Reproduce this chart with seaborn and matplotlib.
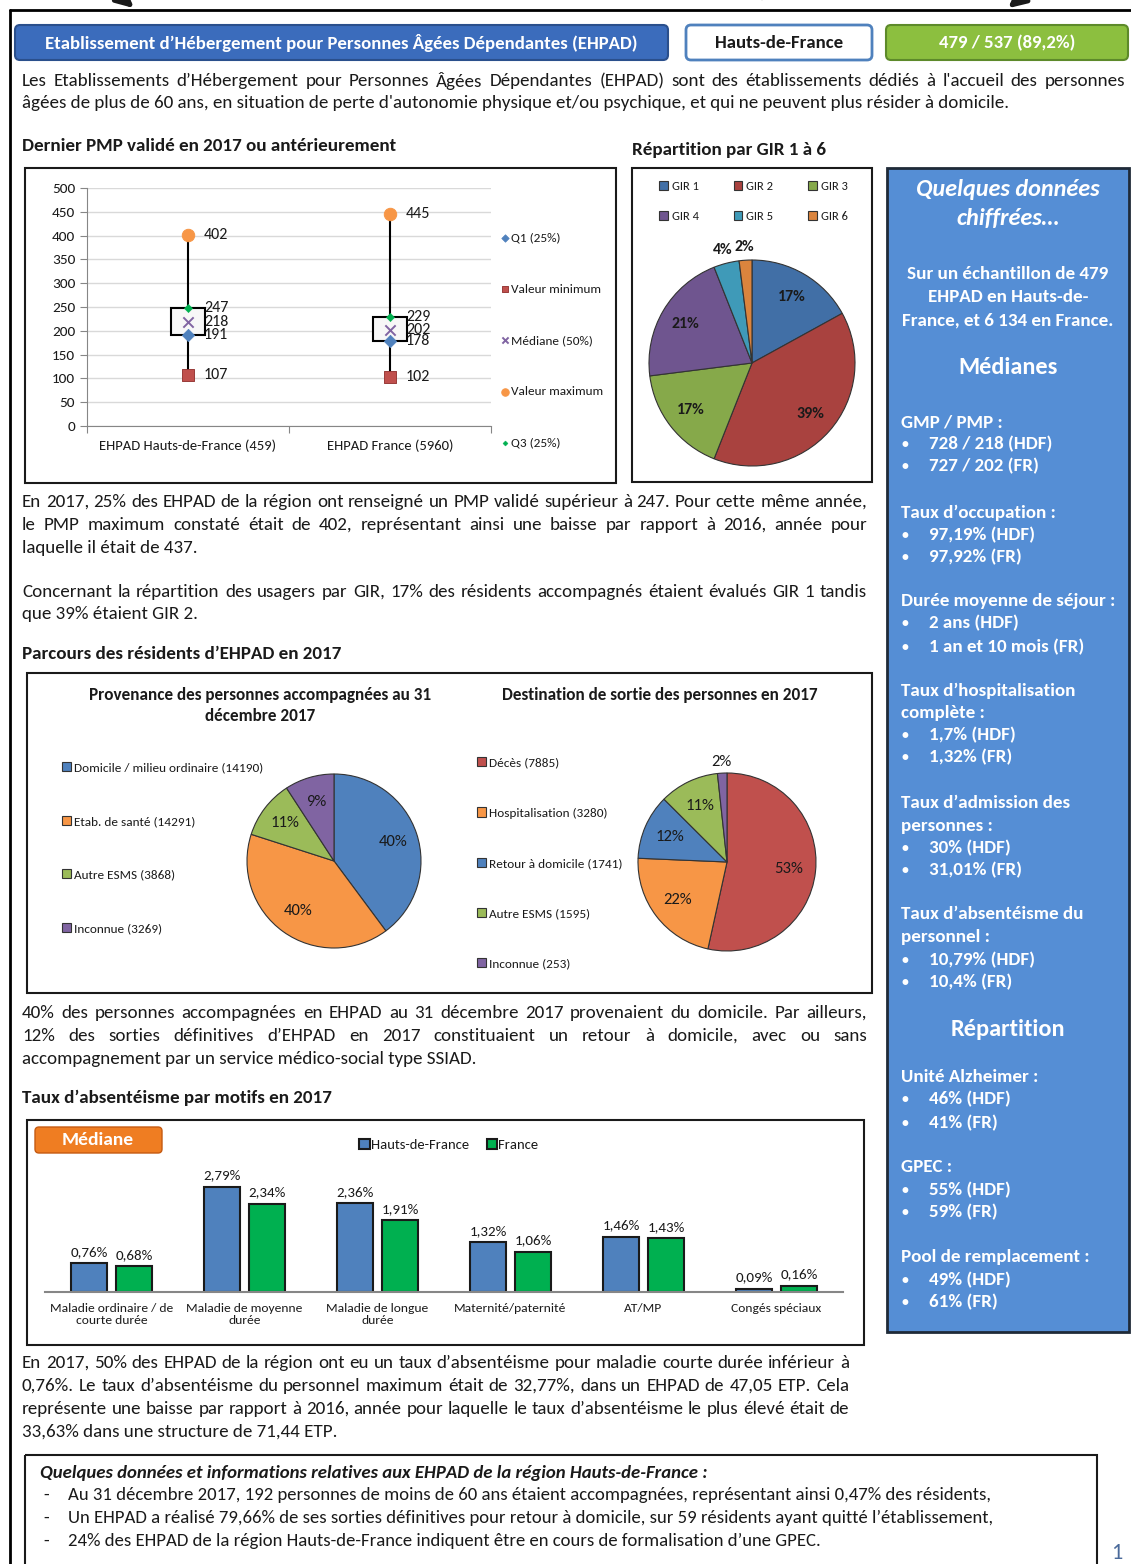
import numpy as np
import pandas as pd
import matplotlib.pyplot as plt
import matplotlib.patches as patches
from matplotlib import font_manager
from matplotlib.transforms import Affine2D
import seaborn as sns

W, H = 1131, 1564

# --- PMP (box plot) ---
pmp_cats = ['EHPAD Hauts-de-France (459)', 'EHPAD France (5960)']
pmp_min = [107, 102]
pmp_q1 = [191, 178]
pmp_med = [218, 202]
pmp_q3 = [247, 229]
pmp_max = [402, 445]

# --- GIR ---
gir_labels = ['GIR 1', 'GIR 2', 'GIR 3', 'GIR 4', 'GIR 5', 'GIR 6']
gir_pct = [17, 39, 17, 21, 4, 2]

# --- parcours ---
prov_labels = ['Domicile / milieu ordinaire (14190)', 'Etab. de santé (14291)',
               'Autre ESMS (3868)', 'Inconnue (3269)']
prov_counts = [14190, 14291, 3868, 3269]
dest_labels = ['Décès (7885)', 'Hospitalisation (3280)', 'Retour à domicile (1741)',
               'Autre ESMS (1595)', 'Inconnue (253)']
dest_counts = [7885, 3280, 1741, 1595, 253]

# --- absentéisme ---
abs_cats = ['Maladie ordinaire / de\ncourte durée', 'Maladie de moyenne\ndurée',
            'Maladie de longue\ndurée', 'Maternité/paternité', 'AT/MP', 'Congés spéciaux']
abs_hdf = [0.76, 2.79, 2.36, 1.32, 1.46, 0.09]
abs_fr = [0.68, 2.34, 1.91, 1.06, 1.43, 0.16]

BLUE, RED, GREEN, PURPLE, TEAL, ORANGE = '#4f81bd', '#c0504d', '#9bbb59', '#8064a2', '#4bacc6', '#f79646'
TXT = '#1a1a1a'
BODY = 13.7

sns.set_style('ticks')
avail = {f.name for f in font_manager.fontManager.ttflist}
FONT = next(f for f in ['Carlito', 'Liberation Sans Narrow', 'Open Sans', 'DejaVu Sans'] if f in avail)
plt.rcParams['font.family'] = FONT

fig = plt.figure(figsize=(W / 100, H / 100), dpi=100)
px = Affine2D().scale(1 / W, -1 / H).translate(0, 1) + fig.transFigure
renderer = fig.canvas.get_renderer()


def txt(x, y, s, size=BODY, **kw):
    kw.setdefault('color', TXT)
    kw.setdefault('va', 'center')
    return fig.text(x, y, s, transform=px, fontsize=size, **kw)


def rect(x0, y0, x1, y1, fc='none', ec='#1a1a1a', lw=1.5, rnd=0, z=0):
    style = f'round,pad=0,rounding_size={rnd}' if rnd else 'square,pad=0'
    p = patches.FancyBboxPatch((x0, y0), x1 - x0, y1 - y0, boxstyle=style, transform=px,
                               fc=fc, ec=ec, lw=lw, zorder=z)
    fig.add_artist(p)


def add_ax(x0, y0, x1, y1):
    return fig.add_axes([x0 / W, 1 - y1 / H, (x1 - x0) / W, (y1 - y0) / H])


def justify(line, x0, x1, y, size=BODY):
    words = line.split()
    ts = [txt(x0, y, w, size) for w in words]
    ws = [t.get_window_extent(renderer).width for t in ts]
    gap = (x1 - x0 - sum(ws)) / (len(ws) - 1)
    x = x0
    for t, w in zip(ts, ws):
        t.set_x(x)
        x += w + gap


def para(lines, x0, x1, y0, dy=23, size=BODY):
    for i, line in enumerate(lines):
        if i < len(lines) - 1:
            justify(line, x0, x1, y0 + i * dy, size)
        else:
            txt(x0, y0 + i * dy, line, size)


def push_out(wedges, auto, vals, dist=1.13):
    tot = sum(vals)
    for w, t, v in zip(wedges, auto, vals):
        if v / tot < 0.05:
            a = np.deg2rad((w.theta1 + w.theta2) / 2)
            t.set_position((dist * np.cos(a), dist * np.sin(a)))


# page frame and arrows
fig.add_artist(plt.Line2D([10, 1131], [10, 10], transform=px, color='black', lw=2))
fig.add_artist(plt.Line2D([10, 10], [10, 1564], transform=px, color='black', lw=2))
for (x0, y0), (x1, y1), c in [((100, -22), (136, 10), '#1a1a1a'), ((1044, -22), (1006, 10), '#1a1a1a'),
                              ((762, -25), (762, 6), '#b0b0b0')]:
    fig.add_artist(patches.FancyArrowPatch((x0, y0), (x1, y1), transform=px, arrowstyle='-|>',
                                           mutation_scale=26, lw=3.5, color=c))

# header
rect(15, 25, 668, 60, fc='#3b6cbc', ec='#2a4f8c', lw=1.5, rnd=5)
txt(341, 43, 'Etablissement d’Hébergement pour Personnes Âgées Dépendantes (EHPAD)', 13.5,
    color='white', weight='bold', ha='center')
rect(686, 25, 872, 60, fc='white', ec='#4f81bd', lw=2, rnd=5)
txt(779, 43, 'Hauts-de-France', 13.5, color='#1a1a1a', weight='bold', ha='center')
rect(886, 25, 1128, 60, fc='#8cbf3f', ec='#5d8a2a', lw=1.5, rnd=5)
txt(1007, 43, '479 / 537 (89,2%)', 13.5, color='white', weight='bold', ha='center')

para(['Les Etablissements d’Hébergement pour Personnes Âgées Dépendantes (EHPAD) sont des établissements dédiés à l\'accueil des personnes',
      'âgées de plus de 60 ans, en situation de perte d\'autonomie physique et/ou psychique, et qui ne peuvent plus résider à domicile.'],
     22, 1125, 81, 22)

# ---------- box plot ----------
txt(22, 146, 'Dernier PMP validé en 2017 ou antérieurement', BODY, weight='bold')
rect(25, 168, 616, 483)
ax = add_ax(87, 188, 491, 426)
pos = np.arange(len(pmp_cats))
ax.vlines(pos, pmp_min, pmp_max, color='black', lw=1.5, zorder=1)
ax.bar(pos, np.array(pmp_q3) - np.array(pmp_q1), bottom=pmp_q1, width=0.17,
       color='#f7f7f7', edgecolor='black', lw=1.5, zorder=2)
sns.scatterplot(x=pos, y=pmp_q1, marker='D', s=40, color=BLUE, edgecolor=BLUE, ax=ax, label='Q1 (25%)', zorder=4)
sns.scatterplot(x=pos, y=pmp_min, marker='s', s=70, color=RED, edgecolor='#953735', ax=ax, label='Valeur minimum', zorder=4)
sns.scatterplot(x=pos, y=pmp_med, marker='x', s=55, color=PURPLE, linewidth=1.4, ax=ax, label='Médiane (50%)', zorder=4)
sns.scatterplot(x=pos, y=pmp_max, marker='o', s=80, color=ORANGE, edgecolor=ORANGE, ax=ax, label='Valeur maximum', zorder=4)
sns.scatterplot(x=pos, y=pmp_q3, marker='D', s=18, color='#00b050', edgecolor='#00b050', ax=ax, label='Q3 (25%)', zorder=4)
for vals in [pmp_min, pmp_q1, pmp_med, pmp_q3, pmp_max]:
    for p, v in zip(pos, vals):
        ax.annotate(str(v), (p, v), xytext=(16, 0), textcoords='offset pixels',
                    va='center', fontsize=11.5, color=TXT, zorder=5)
ax.set_xlim(-0.5, 1.5)
ax.set_ylim(0, 500)
ax.set_yticks(range(0, 501, 50))
ax.set_xticks([-0.5, 0.5, 1.5])
ax.set_xticklabels([])
ax.set_xticks(pos, minor=True)
ax.set_xticklabels(pmp_cats, minor=True)
ax.tick_params(axis='x', which='minor', length=0, pad=10, labelsize=10.5, labelcolor=TXT)
ax.tick_params(axis='both', which='major', length=5, color='#868686', labelsize=11, labelcolor=TXT)
ax.grid(axis='y', color='#d9d9d9', lw=1)
ax.set_axisbelow(True)
sns.despine(ax=ax)
for s in ['left', 'bottom']:
    ax.spines[s].set_color('#868686')
h, l = ax.get_legend_handles_labels()
ax.legend(h, l, loc='upper left', bbox_to_anchor=(500, 232), bbox_transform=px, frameon=False,
          fontsize=9.5, labelspacing=3.04, handletextpad=0.1, handlelength=0.7, borderpad=0,
          borderaxespad=0, markerscale=0.6, labelcolor=TXT)

# ---------- GIR pie ----------
txt(632, 150, 'Répartition par GIR 1 à 6', BODY, weight='bold')
rect(632, 168, 872, 482)
ax = add_ax(649, 260, 855, 466)
gir_cols = ['#416fa6', '#a9423f', '#86a94a', '#6f558f', '#3f9ab8', '#db843d']
wedges, _, auto = ax.pie(gir_pct, colors=gir_cols, startangle=90, counterclock=False,
                         autopct='%1.0f%%', pctdistance=0.75,
                         wedgeprops=dict(edgecolor='#333333', lw=0.8),
                         textprops=dict(fontsize=11.5, color=TXT, weight='bold'))
push_out(wedges, auto, gir_pct)
ax.set_xlim(-1, 1)
ax.set_ylim(-1, 1)
order = [0, 3, 1, 4, 2, 5]
ax.legend([wedges[i] for i in order], [gir_labels[i] for i in order], ncol=3, loc='upper left',
          bbox_to_anchor=(659, 181), bbox_transform=px, frameon=False, fontsize=9, labelspacing=1.5,
          handlelength=0.7, handleheight=0.7, handletextpad=0.3, columnspacing=2.8, borderpad=0,
          borderaxespad=0, labelcolor=TXT)

# ---------- sidebar ----------
rect(887, 168, 1129, 1332, fc='#558ed5', ec='#1f2a38', lw=2)
txt(1008, 190, 'Quelques données', 17.5, color='white', weight='bold', style='italic', ha='center')
txt(1008, 219, 'chiffrées…', 17.5, color='white', weight='bold', style='italic', ha='center')
for y, s in [(274, 'Sur un échantillon de 479'), (297, 'EHPAD en Hauts-de-'), (320, 'France, et 6 134 en France.')]:
    txt(1008, y, s, 13.7, color='white', weight='bold', ha='center')
txt(1008, 368, 'Médianes', 17.5, color='white', weight='bold', ha='center')
txt(1008, 1030, 'Répartition', 17.5, color='white', weight='bold', ha='center')
side_lines = [(422, 'h', 'GMP / PMP :'), (444, 'b', '728 / 218 (HDF)'), (466, 'b', '727 / 202 (FR)'),
              (513, 'h', 'Taux d’occupation :'), (535, 'b', '97,19% (HDF)'), (557, 'b', '97,92% (FR)'),
              (601, 'h', 'Durée moyenne de séjour :'), (623, 'b', '2 ans (HDF)'), (647, 'b', '1 an et 10 mois (FR)'),
              (691, 'h', 'Taux d’hospitalisation'), (713, 'h', 'complète :'), (735, 'b', '1,7% (HDF)'),
              (757, 'b', '1,32% (FR)'), (803, 'h', 'Taux d’admission des'), (826, 'h', 'personnes :'),
              (848, 'b', '30% (HDF)'), (870, 'b', '31,01% (FR)'), (914, 'h', 'Taux d’absentéisme du'),
              (937, 'h', 'personnel :'), (960, 'b', '10,79% (HDF)'), (982, 'b', '10,4% (FR)'),
              (1077, 'h', 'Unité Alzheimer :'), (1099, 'b', '46% (HDF)'), (1123, 'b', '41% (FR)'),
              (1167, 'h', 'GPEC :'), (1190, 'b', '55% (HDF)'), (1212, 'b', '59% (FR)'),
              (1257, 'h', 'Pool de remplacement :'), (1280, 'b', '49% (HDF)'), (1302, 'b', '61% (FR)')]
for y, kind, s in side_lines:
    if kind == 'h':
        txt(901, y, s, 13.7, color='white', weight='bold')
    else:
        txt(902, y, '•', 10, color='white', weight='bold')
        txt(929, y, s, 13.7, color='white', weight='bold')

# ---------- paragraphs ----------
para(['En 2017, 25% des EHPAD de la région ont renseigné un PMP validé supérieur à 247. Pour cette même année,',
      'le PMP maximum constaté était de 402, représentant ainsi une baisse par rapport à 2016, année pour',
      'laquelle il était de 437.'], 22, 867, 502)
para(['Concernant la répartition des usagers par GIR, 17% des résidents accompagnés étaient évalués GIR 1 tandis',
      'que 39% étaient GIR 2.'], 22, 867, 592, 22)

# ---------- parcours ----------
txt(22, 654, 'Parcours des résidents d’EHPAD en 2017', BODY, weight='bold')
rect(27, 673, 872, 993)
txt(260, 695, 'Provenance des personnes accompagnées au 31', 12.3, weight='bold', ha='center')
txt(260, 716, 'décembre 2017', 12.3, weight='bold', ha='center')
txt(660, 695, 'Destination de sortie des personnes en 2017', 12.3, weight='bold', ha='center')

ax = add_ax(247, 774, 421, 948)
wedges, _, auto = ax.pie(prov_counts, colors=[BLUE, ORANGE, GREEN, PURPLE], startangle=90,
                         counterclock=False, autopct='%1.0f%%', pctdistance=0.71,
                         wedgeprops=dict(edgecolor='#333333', lw=0.8),
                         textprops=dict(fontsize=12, color=TXT))
ax.set_xlim(-1, 1)
ax.set_ylim(-1, 1)
ax.legend(wedges, prov_labels, loc='upper left', bbox_to_anchor=(62, 762), bbox_transform=px,
          frameon=False, fontsize=9.5, labelspacing=3.21, handlelength=0.7, handleheight=0.7,
          handletextpad=0.2, borderpad=0, borderaxespad=0, labelcolor=TXT)

ax = add_ax(638, 773, 816, 951)
wedges, _, auto = ax.pie(dest_counts, colors=[RED, ORANGE, BLUE, GREEN, PURPLE], startangle=90,
                         counterclock=False, autopct='%1.0f%%', pctdistance=0.7,
                         wedgeprops=dict(edgecolor='#333333', lw=0.8),
                         textprops=dict(fontsize=12, color=TXT))
push_out(wedges, auto, dest_counts, 1.12)
ax.set_xlim(-1, 1)
ax.set_ylim(-1, 1)
ax.legend(wedges, dest_labels, loc='upper left', bbox_to_anchor=(477, 757), bbox_transform=px,
          frameon=False, fontsize=9.5, labelspacing=2.96, handlelength=0.7, handleheight=0.7,
          handletextpad=0.2, borderpad=0, borderaxespad=0, labelcolor=TXT)

para(['40% des personnes accompagnées en EHPAD au 31 décembre 2017 provenaient du domicile. Par ailleurs,',
      '12% des sorties définitives d’EHPAD en 2017 constituaient un retour à domicile, avec ou sans',
      'accompagnement par un service médico-social type SSIAD.'], 22, 867, 1013)

# ---------- absentéisme ----------
txt(22, 1098, 'Taux d’absentéisme par motifs en 2017', BODY, weight='bold')
rect(27, 1120, 864, 1345)
rect(35, 1127, 162, 1153, fc='#ef7d22', ec='#c55a11', lw=1, rnd=4, z=2)
txt(98, 1140, 'Médiane', 14, color='white', weight='bold', ha='center')

ax = add_ax(45, 1168, 843, 1292)
df_abs = pd.DataFrame({'motif': abs_cats * 2,
                       'zone': ['Hauts-de-France'] * len(abs_cats) + ['France'] * len(abs_cats),
                       'taux': abs_hdf + abs_fr})
sns.barplot(data=df_abs, x='motif', y='taux', hue='zone', palette=[BLUE, '#00b050'], saturation=1,
            width=0.676, gap=0.2, edgecolor='#1a1a1a', linewidth=1.5, errorbar=None, ax=ax)
for cont, vals in zip(ax.containers, [abs_hdf, abs_fr]):
    ax.bar_label(cont, labels=[f'{v:.2f}%'.replace('.', ',') for v in vals], padding=4,
                 fontsize=10.8, color=TXT)
ax.set_xlim(-0.5, 5.5)
ax.set_ylim(0, 3.3)
ax.set_xlabel('')
ax.set_ylabel('')
ax.set_yticks([])
sns.despine(ax=ax, left=True)
ax.spines['bottom'].set_color('#868686')
ax.spines['bottom'].set_linewidth(1.5)
ax.tick_params(axis='x', length=0, pad=8, labelsize=9.7, labelcolor=TXT)
for t in ax.get_xticklabels():
    t.set_linespacing(1.1)
h, l = ax.get_legend_handles_labels()
ax.legend(h, l, ncol=2, loc='center', bbox_to_anchor=(449, 1145), bbox_transform=px, frameon=False,
          fontsize=10.5, handlelength=0.7, handleheight=0.7, handletextpad=0.1, columnspacing=1.2,
          borderpad=0, labelcolor=TXT)

para(['En 2017, 50% des EHPAD de la région ont eu un taux d’absentéisme pour maladie courte durée inférieur à',
      '0,76%. Le taux d’absentéisme du personnel maximum était de 32,77%, dans un EHPAD de 47,05 ETP. Cela',
      'représente une baisse par rapport à 2016, année pour laquelle le taux d’absentéisme le plus élevé était de',
      '33,63% dans une structure de 71,44 ETP.'], 22, 849, 1363)

# ---------- bottom box ----------
rect(25, 1455, 1097, 1580)
txt(40, 1473, 'Quelques données et informations relatives aux EHPAD de la région Hauts-de-France :', 13.5,
    style='italic', weight='bold')
for y, s in [(1495, 'Au 31 décembre 2017, 192 personnes de moins de 60 ans étaient accompagnées, représentant ainsi 0,47% des résidents,'),
             (1518, 'Un EHPAD a réalisé 79,66% de ses sorties définitives pour retour à domicile, sur 59 résidents ayant quitté l’établissement,'),
             (1541, '24% des EHPAD de la région Hauts-de-France indiquent être en cours de formalisation d’une GPEC.')]:
    txt(43, y, '-', 13.5)
    txt(68, y, s, 13.5)
txt(1117, 1553, '1', 16, color='#4a6a9a', ha='center')

fig.savefig('out.png', dpi=100)
